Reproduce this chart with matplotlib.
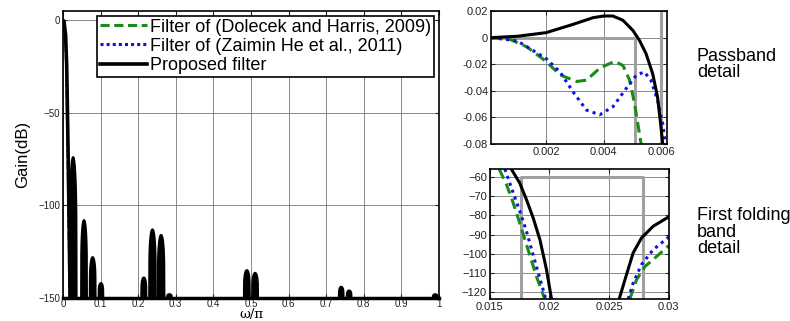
import numpy as np
import matplotlib
matplotlib.use("Agg")
import matplotlib.pyplot as plt
from matplotlib.ticker import FuncFormatter

plt.rcParams['font.family'] = ['Liberation Sans', 'DejaVu Sans']

# ---------------- data: main plot ----------------
main_x_ticks = [0, 0.1, 0.2, 0.3, 0.4, 0.5, 0.6, 0.7, 0.8, 0.9, 1]
main_y_ticks = [-150, -100, -50, 0]
# main lobe of the proposed filter
mainlobe_x = [0.0, 0.003, 0.007, 0.010, 0.012, 0.014, 0.016, 0.018, 0.019]
mainlobe_y = [0.0, -1.0, -8.0, -25.0, -50.0, -75.0, -105.0, -135.0, -150.0]
mainlobe_blue_x = [0.0, 0.003, 0.006, 0.009, 0.011, 0.013, 0.015, 0.017, 0.018]
mainlobe_green_x = [0.0, 0.003, 0.006, 0.009, 0.0105, 0.0125, 0.0145, 0.0165, 0.0175]
# side-lobe clusters (centre, peak dB, half width)
lobe_centers = [0.027, 0.056, 0.079, 0.101, 0.215, 0.238, 0.261, 0.283,
                0.489, 0.511, 0.740, 0.761, 0.990]
lobe_peaks = [-74, -108, -128, -142, -139, -113, -116, -148,
              -135, -136.5, -144, -146, -148]
lobe_halfw = [0.009, 0.0075, 0.0075, 0.006, 0.0065, 0.0085, 0.0085, 0.006,
              0.0075, 0.0075, 0.006, 0.006, 0.006]
floor_db = -150

# ---------------- data: passband detail ----------------
pb_black_x = [0.0001, 0.001, 0.002, 0.00294, 0.00363, 0.004, 0.00432, 0.00467,
              0.00501, 0.00524, 0.00547, 0.0057, 0.00587, 0.00599, 0.00605]
pb_black_y = [0.0, 0.001, 0.00375, 0.010, 0.015, 0.01625, 0.01625, 0.013,
              0.0055, -0.002, -0.012, -0.027, -0.0445, -0.067, -0.080]
pb_green_x = [0.0001, 0.00076, 0.00133, 0.002, 0.00248, 0.00306, 0.0034, 0.00386,
              0.00438, 0.00467, 0.0049, 0.00507, 0.00524, 0.0053]
pb_green_y = [0.0, -0.0015, -0.007, -0.018, -0.028, -0.033, -0.032, -0.023,
              -0.0178, -0.021, -0.032, -0.0495, -0.072, -0.080]
pb_blue_x = [0.0001, 0.001, 0.002, 0.00248, 0.00294, 0.0034, 0.00386, 0.00432,
             0.00478, 0.00513, 0.00541, 0.00564, 0.00587, 0.00605, 0.00614]
pb_blue_y = [0.0, -0.0025, -0.0158, -0.0258, -0.041, -0.0545, -0.058, -0.052,
             -0.0383, -0.0283, -0.0258, -0.032, -0.047, -0.0645, -0.080]
pb_spec_x = [0.0, 0.0051, 0.0051]
pb_spec_y = [0.0, 0.0, -0.08]
pb_edge = 0.006
pb_x_ticks = [0.002, 0.004, 0.006]
pb_y_ticks = [-0.08, -0.06, -0.04, -0.02, 0, 0.02]

# ---------------- data: first folding band detail ----------------
fb_black_l_x = [0.0168, 0.0175, 0.01807, 0.01863, 0.0192, 0.01975, 0.02017]
fb_black_l_y = [-55.8, -63, -71.7, -81.2, -92.6, -108.2, -123.5]
fb_green_l_x = [0.01578, 0.0164, 0.01696, 0.01751, 0.01807, 0.0189, 0.0196]
fb_green_l_y = [-55.8, -63.9, -73.4, -83.9, -95.1, -111.6, -123.5]
fb_blue_l_x = [0.01626, 0.01696, 0.01751, 0.01807, 0.0189, 0.01969]
fb_blue_l_y = [-55.8, -68.2, -77.7, -88.2, -106.4, -123.5]
fb_black_r_x = [0.02584, 0.02646, 0.02701, 0.02771, 0.02869, 0.0300]
fb_black_r_y = [-123.5, -110.7, -99.5, -91.7, -85.6, -80.7]
fb_blue_r_x = [0.02659, 0.02701, 0.02771, 0.02869, 0.0300]
fb_blue_r_y = [-123.5, -115.2, -105.6, -97.8, -91.2]
fb_green_r_x = [0.02673, 0.02729, 0.0280, 0.02897, 0.0300]
fb_green_r_y = [-123.5, -113.5, -106.6, -101.4, -95.7]
fb_spec_x = [0.0176, 0.0176, 0.02785, 0.02785]
fb_spec_y = [-130, -60, -60, -130]
fb_x_ticks = [0.015, 0.02, 0.025, 0.03]
fb_y_ticks = [-120, -110, -100, -90, -80, -70, -60]

legend_labels = ['Filter of (Dolecek and Harris, 2009)',
                 'Filter of (Zaimin He et al., 2011)',
                 'Proposed filter']

GREEN = '#1a8a1a'
BLUE = '#1010ee'
GRID = '#777777'
SPEC = '#a0a0a0'

fig = plt.figure(figsize=(7.9, 3.21), dpi=100)


def style_axes(ax, fs):
    ax.tick_params(direction='in', top=True, right=True, labelsize=fs,
                   length=3, width=0.8, pad=2, colors='#222222')
    ax.grid(True, color=GRID, linewidth=0.6)
    ax.set_axisbelow(True)
    for s in ax.spines.values():
        s.set_linewidth(1.2)
        s.set_color('black')


# ---------------- main axes ----------------
ax = fig.add_axes([0.0797, 0.0717, 0.4760, 0.8943])
style_axes(ax, 7)
ax.tick_params(axis='x', pad=0.5)

# lobes drawn as filled envelopes
t = np.linspace(-1, 1, 41)
prof = np.sqrt(np.clip(1 - t ** 2, 0, 1)) ** 0.5
for c, p, w in zip(lobe_centers, lobe_peaks, lobe_halfw):
    xs = c + t * w
    ys = floor_db + (p - floor_db) * prof
    ax.fill_between(xs - 0.0015, floor_db, ys, color=BLUE, lw=0)
    ax.fill_between(xs, floor_db, ys, color='black', lw=0)
    ax.plot(xs, ys, color='black', lw=1.6, solid_capstyle='round')

ax.plot(mainlobe_green_x, mainlobe_y, color=GREEN, lw=1.6, ls='--')
ax.plot(mainlobe_blue_x, mainlobe_y, color=BLUE, lw=1.6, ls=':')
ax.plot(mainlobe_x, mainlobe_y, color='black', lw=2.6)
ax.plot([0, 1], [floor_db, floor_db], color='black', lw=2.5, clip_on=False)

ax.set_xlim(0, 1)
ax.set_ylim(-150, 5)
ax.set_xticks(main_x_ticks)
ax.set_xticklabels([('%g' % v) for v in main_x_ticks])
ax.set_yticks(main_y_ticks)
ax.set_xlabel('ω/π', fontsize=9.5, labelpad=-0.5, family=['DejaVu Serif'])
ax.set_ylabel('Gain(dB)', fontsize=12, labelpad=6)

# legend handles
h1, = ax.plot([], [], color=GREEN, lw=2.2, ls=(0, (3, 1.5)))
h2, = ax.plot([], [], color=BLUE, lw=2.2, ls=(0, (1, 1)))
h3, = ax.plot([], [], color='black', lw=2.6)
leg = ax.legend([h1, h2, h3], legend_labels, loc='upper right',
                bbox_to_anchor=(0.987, 0.983), fontsize=13, frameon=True,
                fancybox=False, edgecolor='black', framealpha=1,
                handlelength=2.6, handletextpad=0.2, borderpad=0.15,
                labelspacing=0.12, borderaxespad=0)
leg.get_frame().set_linewidth(1.2)

# ---------------- passband detail ----------------
ax2 = fig.add_axes([0.6215, 0.5514, 0.2228, 0.4143])
style_axes(ax2, 8)
ax2.plot(pb_spec_x, pb_spec_y, color=SPEC, lw=2.2)
ax2.axvline(pb_edge, color=SPEC, lw=2.2)
ax2.plot(pb_green_x, pb_green_y, color=GREEN, lw=2.2, ls=(0, (3.5, 1.8)))
ax2.plot(pb_blue_x, pb_blue_y, color=BLUE, lw=2.2, ls=(0, (1, 1.4)))
ax2.plot(pb_black_x, pb_black_y, color='black', lw=2.2)
ax2.set_xlim(0.00008, 0.0062)
ax2.set_ylim(-0.08, 0.02)
ax2.set_xticks(pb_x_ticks)
ax2.set_yticks(pb_y_ticks)
ax2.xaxis.set_major_formatter(FuncFormatter(lambda v, p: '%g' % v))
ax2.yaxis.set_major_formatter(FuncFormatter(lambda v, p: '0' if abs(v) < 1e-12 else '%g' % v))

# ---------------- first folding band detail ----------------
ax3 = fig.add_axes([0.6200, 0.0685, 0.2266, 0.4050])
style_axes(ax3, 8)
ax3.plot(fb_spec_x, fb_spec_y, color=SPEC, lw=2.2)
for xs, ys in [(fb_green_l_x, fb_green_l_y), (fb_green_r_x, fb_green_r_y)]:
    ax3.plot(xs, ys, color=GREEN, lw=2.2, ls=(0, (3.5, 1.8)))
for xs, ys in [(fb_blue_l_x, fb_blue_l_y), (fb_blue_r_x, fb_blue_r_y)]:
    ax3.plot(xs, ys, color=BLUE, lw=2.2, ls=(0, (1, 1.4)))
for xs, ys in [(fb_black_l_x, fb_black_l_y), (fb_black_r_x, fb_black_r_y)]:
    ax3.plot(xs, ys, color='black', lw=2.2)
ax3.set_xlim(0.015, 0.03)
ax3.set_ylim(-123.5, -55.8)
ax3.set_xticks(fb_x_ticks)
ax3.set_yticks(fb_y_ticks)
ax3.xaxis.set_major_formatter(FuncFormatter(lambda v, p: '%g' % v))

# side annotations
fig.text(0.882, 0.80, 'Passband\ndetail', fontsize=13, va='center', ha='left',
         linespacing=0.95)
fig.text(0.882, 0.277, 'First folding\nband\ndetail', fontsize=13, va='center',
         ha='left', linespacing=0.95)

fig.savefig('out.png', dpi=100)
